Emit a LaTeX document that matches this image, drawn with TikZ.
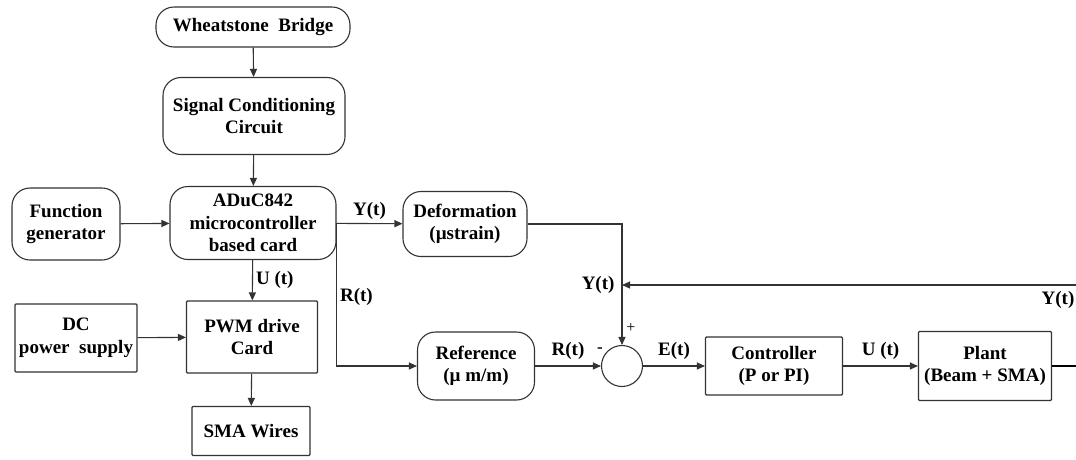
\documentclass[tikz,border=0pt]{standalone}
\usepackage{fontspec}
\setmainfont{Liberation Serif}
\usetikzlibrary{arrows.meta}
\begin{document}
\begin{tikzpicture}[x=1pt, y=-1pt, line width=1.1pt,
		every node/.style={font=\bfseries\fontsize{19}{22.5}\selectfont, align=center},
		rbox/.style={draw=black!80, rounded corners=18pt, inner sep=1pt},
		sbox/.style={draw=black!80, rounded corners=1pt, inner sep=1pt},
		sumnode/.style={draw=black!80, circle, minimum size=41pt, inner sep=0pt},
		lbl/.style={inner sep=3pt},
		arr/.style={draw=black!80, -{Triangle[length=8pt, width=7pt]}}]
		\clip (0,0) rectangle (1076,459);

		\node[rbox, minimum width=194pt, minimum height=40pt] (wheat) at (253,27) {Wheatstone~~Bridge};
		\node[rbox, minimum width=182pt, minimum height=77pt] (signal) at (254,116) {Signal Conditioning\\Circuit};
		\node[rbox, minimum width=166pt, minimum height=73pt] (aduc) at (253,223) {ADuC842\\microcontroller\\based card};
		\node[rbox, minimum width=108pt, minimum height=72pt] (funcgen) at (66,224) {Function\\generator};
		\node[rbox, minimum width=124pt, minimum height=65pt] (deform) at (465,224) {Deformation\\(µstrain)};
		\node[rbox, minimum width=117pt, minimum height=68pt] (refer) at (476,366) {Reference\\(µ m/m)};
		\node[sumnode] (sum) at (622,366) {};
		\node[sbox, minimum width=137pt, minimum height=58pt] (ctrl) at (774,366) {Controller\\(P or PI)};
		\node[sbox, minimum width=133pt, minimum height=69pt] (plant) at (985,366) {Plant\\(Beam + SMA)};
		\node[sbox, minimum width=131pt, minimum height=72pt] (pwm) at (252,337) {PWM drive\\Card};
		\node[sbox, minimum width=122pt, minimum height=68pt] (dcps) at (76,338) {DC\\power~~supply};
		\node[sbox, minimum width=118pt, minimum height=49pt] (sma) at (251,431) {SMA Wires};

		\coordinate (fbend) at (1110,366);
		\coordinate (fbjoin) at (622,285);

		\draw[arr] (wheat) -- (signal);
		\draw[arr] (signal) -- (aduc);
		\draw[arr] (funcgen) -- (aduc);
		\draw[arr] (aduc) -- node[lbl, above] {Y(t)} (deform);
		\draw[arr] (aduc.east) |- node[lbl, right, pos=0.26] {R(t)} (refer);
		\draw[arr] (deform) -| (sum);
		\draw[arr] (refer) -- node[lbl, above, yshift=3pt] {R(t)} (sum);
		\draw[arr] (sum) -- node[lbl, above, yshift=3pt] {E(t)} (ctrl);
		\draw[arr] (ctrl) -- node[lbl, above, yshift=3pt] {U (t)} (plant);
		\draw (plant) -- (fbend);
		\draw[arr] (fbend) |- (fbjoin);
		\draw[arr] (aduc) -- node[lbl, right] {U (t)} (pwm);
		\draw[arr] (dcps) -- (pwm);
		\draw[arr] (pwm) -- (sma);

		\node[lbl, left, xshift=-4pt] (yfb) at (fbjoin) {Y(t)};
		\node[inner sep=0pt] (yout) at (1058,300) {Y(t)};
		\node[lbl, font=\fontsize{16}{16}\selectfont] (plus) at (631,328) {+};
		\node[lbl, font=\bfseries\fontsize{17}{17}\selectfont] (minus) at (600,350) {-};
	\end{tikzpicture}
\end{document}
